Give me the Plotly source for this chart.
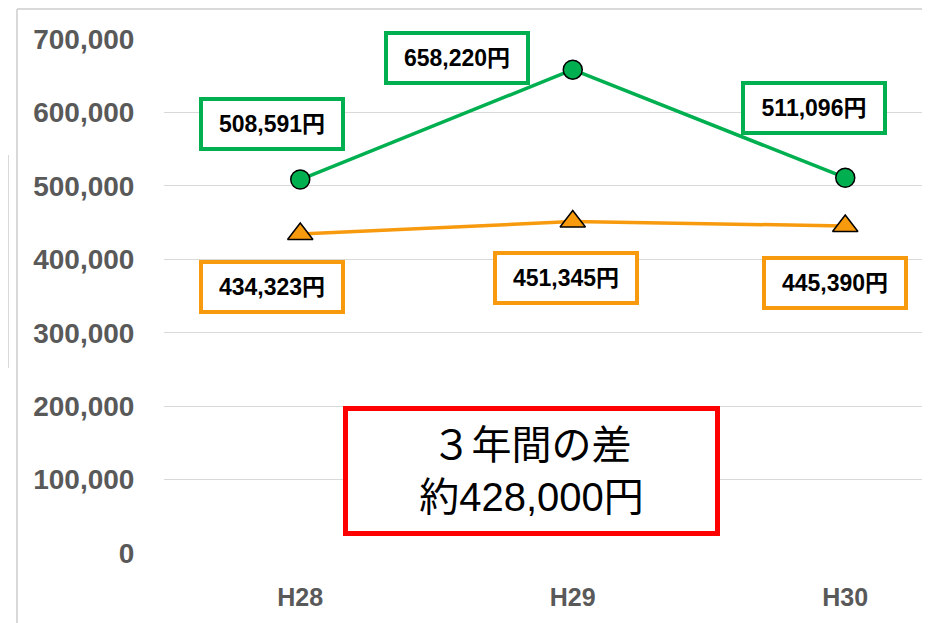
import plotly.graph_objects as go

years = ['H28', 'H29', 'H30']
green_values = [508591, 658220, 511096]
orange_values = [434323, 451345, 445390]
y_ticks = [0, 100000, 200000, 300000, 400000, 500000, 600000, 700000]

green = '#00B050'
orange = '#F79A0E'
label_font = 'Liberation Sans, Arial, Noto Sans CJK JP'

x_idx = list(range(len(years)))

# the page body adds an 8px margin, so the figure is drawn 8px in
OFFSET = 8
W, H = 930 - OFFSET, 623 - OFFSET
# plot area in reference pixels
left, right, top, bottom = 164, 928, 39, 553


def px_x(p):
    return (p - left) / (right - left)


def px_y(p):
    return (bottom - p) / (bottom - top)


fig = go.Figure()

fig.add_trace(go.Scatter(
    x=x_idx, y=green_values,
    mode='lines+markers',
    line=dict(color=green, width=3.5),
    marker=dict(symbol='circle', size=19, color=green,
                line=dict(color='black', width=1.5)),
    showlegend=False
))

fig.add_trace(go.Scatter(
    x=x_idx, y=orange_values,
    mode='lines+markers',
    line=dict(color=orange, width=3.5),
    marker=dict(symbol='triangle-up', size=22, color=orange,
                line=dict(color='black', width=1.5)),
    showlegend=False
))

# value labels (offsets relative to each point, in pixels)
green_shifts = [(-28, 56), (-116, 12), (-31, 70)]
orange_shifts = [(-28, -53), (-7, -56), (-10, -57)]

for i, v in enumerate(green_values):
    fig.add_annotation(
        x=i, y=v, xref='x', yref='y',
        xshift=green_shifts[i][0], yshift=green_shifts[i][1],
        text=f"<b>{v:,}円</b>", showarrow=False,
        font=dict(family=label_font, size=23, color='black'),
        bgcolor='white', bordercolor=green, borderwidth=4, borderpad=0,
        width=138, height=46
    )

for i, v in enumerate(orange_values):
    fig.add_annotation(
        x=i, y=v, xref='x', yref='y',
        xshift=orange_shifts[i][0], yshift=orange_shifts[i][1],
        text=f"<b>{v:,}円</b>", showarrow=False,
        font=dict(family=label_font, size=23, color='black'),
        bgcolor='white', bordercolor=orange, borderwidth=4, borderpad=0,
        width=138, height=46
    )

# summary box
fig.add_annotation(
    x=px_x(531), y=px_y(471), xref='paper', yref='paper',
    xanchor='center', yanchor='middle',
    text="３年間の差<br>約428,000円", showarrow=False,
    font=dict(family=label_font, size=40, color='black'),
    bgcolor='white', bordercolor='#FF0000', borderwidth=5, borderpad=0,
    width=367, height=120
)

# screenshot frame remnants
frame = '#D9D9D9'
fig.add_shape(type='line', xref='paper', yref='paper',
              x0=px_x(17), x1=px_x(927), y0=px_y(9), y1=px_y(9),
              line=dict(color=frame, width=2))
fig.add_shape(type='line', xref='paper', yref='paper',
              x0=px_x(17), x1=px_x(17), y0=px_y(9), y1=px_y(623),
              line=dict(color=frame, width=2))
fig.add_shape(type='line', xref='paper', yref='paper',
              x0=px_x(8.5), x1=px_x(8.5), y0=px_y(155), y1=px_y(368),
              line=dict(color=frame, width=1))

fig.update_layout(
    width=W, height=H,
    margin=dict(l=left - OFFSET, r=W - (right - OFFSET),
                t=top - OFFSET, b=H - (bottom - OFFSET)),
    plot_bgcolor='white',
    paper_bgcolor='white',
    xaxis=dict(
        tickmode='array', tickvals=x_idx,
        ticktext=[f"<b>{y}</b>" for y in years],
        range=[-0.5, -0.5 + (right - left) / 272.5],
        showgrid=False, zeroline=False, showline=False,
        ticks='outside', ticklen=22, tickcolor='rgba(0,0,0,0)',
        tickfont=dict(family=label_font, size=25, color='#595959'),
        automargin=False
    ),
    yaxis=dict(
        range=[0, 700000],
        tickmode='array', tickvals=y_ticks,
        ticktext=[f"<b>{t:,}</b>" for t in y_ticks],
        showgrid=True, gridcolor='#D9D9D9', gridwidth=1,
        zeroline=False, showline=False,
        ticks='outside', ticklen=23, tickcolor='rgba(0,0,0,0)',
        tickfont=dict(family=label_font, size=28, color='#595959'),
        automargin=False
    )
)

fig.write_html("out.html")
